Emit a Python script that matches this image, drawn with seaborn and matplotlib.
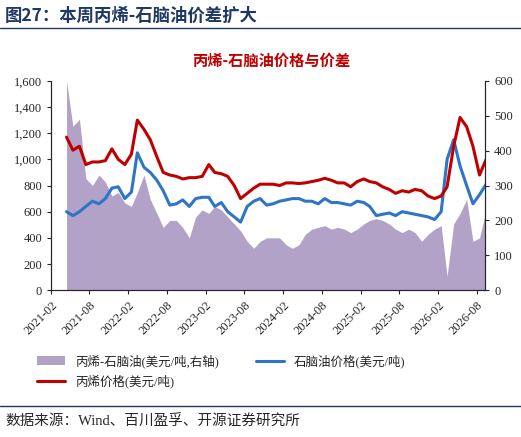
import numpy as np
import pandas as pd
import matplotlib
matplotlib.use("Agg")
import matplotlib.pyplot as plt
import matplotlib.dates as mdates
from matplotlib.ticker import FuncFormatter
import seaborn as sns

sns.set_style("white")
plt.rcParams['font.family'] = ['Liberation Serif', 'Noto Sans CJK SC']

# monthly points, 2021-03 .. 2026-09
months = pd.date_range("2021-03-15", "2026-09-15", freq="MS") + pd.Timedelta(days=14)
propylene = [1170, 1070, 1100, 960, 980, 980, 990, 1080, 1000, 960,
             1040, 1300, 1230, 1150, 1020, 900, 880, 870, 850, 860, 860, 870,
             960, 900, 890, 870, 800, 700, 740, 780, 810, 810, 810, 800,
             820, 820, 815, 820, 830, 840, 855, 840, 820, 820, 790, 830,
             850, 830, 820, 790, 770, 740, 760, 750, 770, 760, 720, 700,
             720, 790, 1100, 1320, 1250, 1100, 880, 1000, 1060]
naphtha = [600, 570, 600, 640, 680, 660, 700, 780, 790, 700,
           750, 1050, 940, 900, 840, 760, 650, 660, 690, 640, 700, 710,
           710, 640, 670, 600, 560, 520, 640, 680, 700, 650, 660, 680,
           690, 700, 700, 680, 680, 660, 700, 670, 670, 660, 650, 680,
           670, 640, 570, 580, 590, 570, 600, 590, 580, 570, 560, 540,
           600, 1000, 1150, 950, 800, 660, 730, 810]
spread = [600, 470, 490, 320, 300, 330, 310, 270, 280, 250,
          240, 280, 330, 260, 220, 180, 200, 200, 180, 150, 210, 230,
          220, 240, 230, 210, 190, 170, 140, 120, 140, 150, 150, 150,
          130, 120, 130, 160, 175, 180, 185, 175, 180, 175, 165, 175,
          190, 200, 205, 200, 190, 175, 165, 175, 165, 140, 160, 175,
          185, 40, 190, 220, 260, 140, 150, 230]
n = min(len(months), len(propylene), len(naphtha), len(spread))
df = pd.DataFrame({"date": months[:n], "propylene": propylene[:n],
                   "naphtha": naphtha[:n], "spread": spread[:n]})

fig = plt.figure(figsize=(5.21, 4.37), dpi=100)
ax = fig.add_axes([0.098, 0.336, 0.833, 0.479])
ax2 = ax.twinx()
ax.set_zorder(2); ax.patch.set_visible(False)

ax2.fill_between(df["date"], 0, df["spread"], color="#b3a2c7", lw=0, label="丙烯-石脑油(美元/吨,右轴)")
sns.lineplot(data=df, x="date", y="naphtha", ax=ax, color="#2e75c6", lw=2.2, label="石脑油价格(美元/吨)")
sns.lineplot(data=df, x="date", y="propylene", ax=ax, color="#c00000", lw=2.2, label="丙烯价格(美元/吨)")

ax.set_ylim(0, 1600); ax2.set_ylim(0, 600)
ax.set_yticks(range(0, 1601, 200)); ax2.set_yticks(range(0, 601, 100))
ax.yaxis.set_major_formatter(FuncFormatter(lambda v, p: f"{int(v):,}"))
ax.set_xlim(pd.Timestamp("2021-02-01"), pd.Timestamp("2026-09-10"))
ax.xaxis.set_major_locator(mdates.MonthLocator(bymonth=[2, 8]))
ax.xaxis.set_major_formatter(mdates.DateFormatter("%Y-%m"))
for a in (ax, ax2):
    a.tick_params(labelsize=9, length=3, direction="out")
    a.set_xlabel(""); a.set_ylabel("")
    a.spines["top"].set_visible(False)
plt.setp(ax.get_xticklabels(), rotation=45, ha="right", rotation_mode="anchor")
ax.tick_params(axis="x", bottom=True)
ax.tick_params(axis="y", left=True)
ax2.tick_params(axis="y", right=True)

h1, l1 = ax2.get_legend_handles_labels()
h2, l2 = ax.get_legend_handles_labels()
ax.legend().remove()
# column-first fill: spread, propylene | naphtha
handles = [h1[0], h2[1], h2[0]]
labels = [l1[0], l2[1], l2[0]]
fig.legend(handles, labels, loc="upper left", bbox_to_anchor=(0.05, 0.215), ncol=2,
           frameon=False, handlelength=2.2, columnspacing=3.0,
           prop={"family": ["Liberation Serif", "Noto Sans CJK SC"], "size": 9})

fig.text(0.01, 0.965, "图27：本周丙烯-石脑油价差扩大", fontsize=12.5, fontweight="bold",
         color="#1f3864", va="center", family=["Noto Sans CJK SC"])
fig.add_artist(plt.Line2D([0, 1], [0.935, 0.935], color="#1f3864", lw=1))
fig.text(0.52, 0.86, "丙烯-石脑油价格与价差", fontsize=11, fontweight="bold", color="#c00000",
         ha="center", va="center", family=["Noto Sans CJK SC"])
fig.add_artist(plt.Line2D([0, 1], [0.07, 0.07], color="#1f3864", lw=1))
fig.text(0.01, 0.035, "数据来源：Wind、百川盈孚、开源证券研究所", fontsize=10.5, va="center",
         family=["Liberation Serif", "Noto Sans CJK SC"])

fig.savefig("out.png", dpi=100)
